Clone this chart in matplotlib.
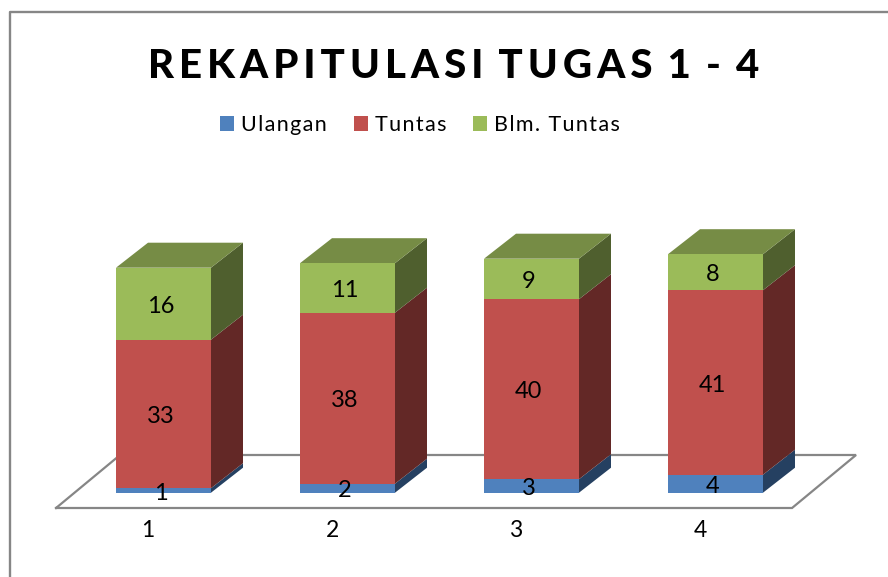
import numpy as np
import matplotlib
matplotlib.use('Agg')
import matplotlib.pyplot as plt
from matplotlib.lines import Line2D

plt.rcParams['font.family'] = ['Lato', 'DejaVu Sans']

# data
categories = [1, 2, 3, 4]
ulangan = [1, 2, 3, 4]
tuntas = [33, 38, 40, 41]
blm_tuntas = [16, 11, 9, 8]
series_names = ['Ulangan', 'Tuntas', 'Blm. Tuntas']
title_text = 'REKAPITULASI TUGAS 1 - 4'

front_colors = ['#4F81BD', '#C0504D', '#9BBB59']
side_colors = ['#254061', '#632826', '#4F5F2E']
top_color = '#768C45'
line_color = '#868686'

W, H = 888, 577
px_x = 184.0   # pixels per category
px_y = 4.5     # pixels per value unit
bar_w = 95 / px_x
dx = 32 / px_x
dy = 25 / px_y

fig = plt.figure(figsize=(W / 100, H / 100), dpi=100)
ax = fig.add_axes([0, 0, 1, 1])
ax.set_xlim(1 - 163.5 / px_x, 1 + (W - 163.5) / px_x)
ax.set_ylim(-(H - 492.7) / px_y, 492.7 / px_y)
ax.axis('off')

# outer frame, runs off the picture on the right and bottom
fig.add_artist(Line2D([9.5 / W, 9.5 / W, 1], [0, 1 - 12 / H, 1 - 12 / H],
                      color=line_color, lw=1.7))

# floor
fx0 = categories[0] - 0.5 - 0.084
fx1 = categories[-1] + 0.5 - 0.084
floor_front = -15.3 / px_y
floor_back = 37.7 / px_y
floor_dx = 64 / px_x
ax.plot([fx0, fx1, fx1 + floor_dx, fx0 + floor_dx, fx0],
        [floor_front, floor_front, floor_back, floor_back, floor_front],
        color=line_color, lw=1.6, zorder=1, solid_joinstyle='miter')

# stacked boxes
x = np.array(categories, dtype=float)
bottom = np.zeros(4)
handles = []
for vals, name, fc, sc in zip([ulangan, tuntas, blm_tuntas], series_names, front_colors, side_colors):
    vals = np.array(vals)
    top = bottom + vals
    b = ax.bar(x, vals, bar_w, bottom=bottom, color=fc, label=name, zorder=3, linewidth=0)
    handles.append(b)
    for xi, y0, y1 in zip(x, bottom, top):
        r = xi + bar_w / 2
        ax.fill([r, r + dx, r + dx, r], [y0, y0 + dy, y1 + dy, y1],
                color=sc, zorder=2, linewidth=0)
    for xi, y0, v in zip(x, bottom, vals):
        ax.text(xi - 0.015, y0 + v / 2 - 0.6, str(v), ha='center', va='center',
                fontsize=17, color='black', zorder=5)
    bottom = top

# top faces
for xi, y1 in zip(x, bottom):
    l = xi - bar_w / 2
    r = xi + bar_w / 2
    ax.fill([l, r, r + dx, l + dx], [y1, y1, y1 + dy, y1 + dy],
            color=top_color, zorder=2, linewidth=0)

# category labels
for xi, c in zip(x, categories):
    ax.text(xi - 0.084, -37.6 / px_y, str(c), ha='center', va='center',
            fontsize=16.5, color='black')

# title with wide letter spacing
spaced = '\u2009'.join(title_text).replace('\u2009 \u2009', '\u2009\u2009\u2009')
fig.text(453.5 / W, 1 - 67 / H, spaced, ha='center', va='center',
         fontsize=29, fontweight='black', color='black')

# legend
leg = fig.legend(handles=handles,
                 labels=['\u200a'.join(n) for n in series_names],
                 loc='center', bbox_to_anchor=(420 / W, 1 - 125 / H), ncol=3,
                 frameon=False, fontsize=15.5, handlelength=0.65, handleheight=0.7,
                 handletextpad=0.33, columnspacing=1.25)

fig.savefig('out.png', dpi=100)
